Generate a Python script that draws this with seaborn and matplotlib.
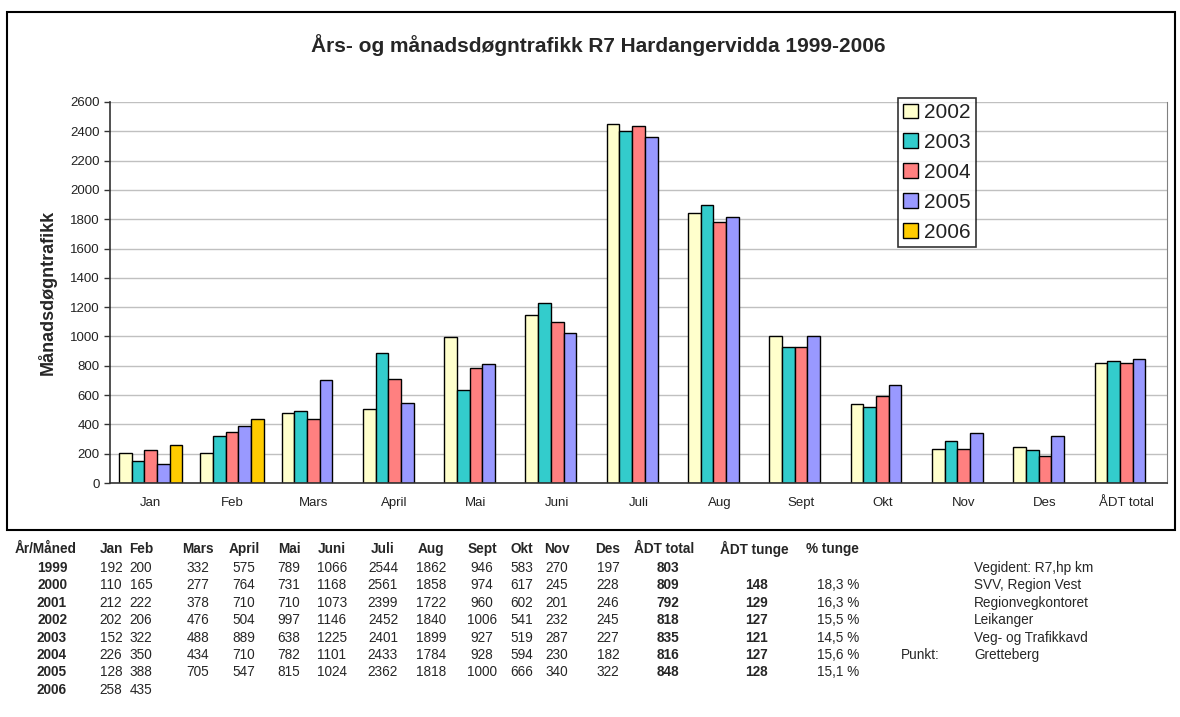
import pandas as pd
import matplotlib.pyplot as plt
import seaborn as sns
from matplotlib.patches import Rectangle

# Data (monthly average daily traffic, Jan..Des)
months = ['Jan', 'Feb', 'Mars', 'April', 'Mai', 'Juni', 'Juli', 'Aug', 'Sept', 'Okt', 'Nov', 'Des']
categories = months + ['ÅDT total']
table_years = [1999, 2000, 2001, 2002, 2003, 2004, 2005, 2006]

v1999 = [192, 200, 332, 575, 789, 1066, 2544, 1862, 946, 583, 270, 197]
v2000 = [110, 165, 277, 764, 731, 1168, 2561, 1858, 974, 617, 245, 228]
v2001 = [212, 222, 378, 710, 710, 1073, 2399, 1722, 960, 602, 201, 246]
v2002 = [202, 206, 476, 504, 997, 1146, 2452, 1840, 1006, 541, 232, 245]
v2003 = [152, 322, 488, 889, 638, 1225, 2401, 1899, 927, 519, 287, 227]
v2004 = [226, 350, 434, 710, 782, 1101, 2433, 1784, 928, 594, 230, 182]
v2005 = [128, 388, 705, 547, 815, 1024, 2362, 1818, 1000, 666, 340, 322]
v2006 = [258, 435]

adt_total = [803, 809, 792, 818, 835, 816, 848, None]
adt_tunge = [None, 148, 129, 127, 121, 127, 128, None]
pct_tunge = [None, '18,3 %', '16,3 %', '15,5 %', '14,5 %', '15,6 %', '15,1 %', None]

monthly = [v1999, v2000, v2001, v2002, v2003, v2004, v2005, v2006]

chart_years = ['2002', '2003', '2004', '2005', '2006']
colors = ['#FFFFCC', '#33CCCC', '#FF8080', '#9999FF', '#FFCC00']

side_notes = ['Vegident: R7,hp km', 'SVV, Region Vest', 'Regionvegkontoret',
              'Leikanger', 'Veg- og Trafikkavd', 'Gretteberg']

# Long-form frame for the chart (2002-2006)
rows = []
for yr, vals in zip(table_years, monthly):
    if str(yr) not in chart_years:
        continue
    for m, v in zip(months, vals):
        rows.append({'Måned': m, 'År': str(yr), 'Trafikk': v})
    tot = adt_total[table_years.index(yr)]
    if tot is not None:
        rows.append({'Måned': 'ÅDT total', 'År': str(yr), 'Trafikk': tot})
df = pd.DataFrame(rows)

sns.set_style('white')
plt.rcParams['font.family'] = ['Liberation Sans', 'DejaVu Sans']

fig = plt.figure(figsize=(11.8, 7.17), dpi=100)
ax = fig.add_axes([110 / 1180, 1 - 483 / 717, 1057 / 1180, 381 / 717])

sns.barplot(data=df, x='Måned', y='Trafikk', hue='År', order=categories,
            hue_order=chart_years, palette=colors, width=0.78,
            edgecolor='black', linewidth=1, saturation=1, ax=ax)

ax.set_xlim(-0.5, len(categories) - 0.5)
ax.set_ylim(0, 2600)
ax.set_yticks(range(0, 2601, 200))
ax.yaxis.grid(True, color='#c0c0c0', linewidth=1)
ax.set_axisbelow(True)

# Excel-style ticks: marks between categories, labels at centre
ax.set_xticks(range(len(categories)))
ax.set_xticklabels(categories)
ax.set_xticks([i - 0.5 for i in range(len(categories) + 1)], minor=True)
ax.tick_params(axis='x', which='major', length=0, pad=10, labelsize=9.5, colors='#222222')
ax.tick_params(axis='x', which='minor', length=5, width=1, color='#333333', direction='out')
ax.tick_params(axis='y', length=4, width=1, color='#333333', labelsize=9.5,
               labelcolor='#222222', left=True, direction='out')

for s in ['left', 'bottom']:
    ax.spines[s].set_color('#333333')
    ax.spines[s].set_linewidth(1.2)
ax.spines['top'].set_visible(False)
ax.spines['right'].set_color('#808080')

ax.set_xlabel('')
ax.set_ylabel('Månadsdøgntrafikk', fontsize=13, fontweight='bold')
ax.yaxis.set_label_coords(-0.050, 0.5)

leg = ax.legend(loc='upper left', bbox_to_anchor=(898 / 1180, 1 - 98 / 717),
                bbox_transform=fig.transFigure, fontsize=15, frameon=True,
                fancybox=False, borderpad=0.25, labelspacing=0.52,
                handlelength=0.7, handleheight=0.7, handletextpad=0.3,
                borderaxespad=0)
leg.get_frame().set_edgecolor('black')
leg.get_frame().set_linewidth(1.2)
for t in leg.get_texts():
    t.set_color('#222222')

fig.text(598 / 1180, 1 - 45 / 717, 'Års- og månadsdøgntrafikk R7 Hardangervidda 1999-2006',
         ha='center', va='center', fontsize=15, fontweight='bold')

# Chart frame
fig.patches.append(Rectangle((7 / 1180, 1 - 530 / 717), 1168 / 1180, 518 / 717,
                             transform=fig.transFigure, fill=False,
                             edgecolor='black', linewidth=1.5))

# Table below the chart
col_x = [111, 141, 198, 244, 289, 332, 383, 431, 482, 522, 557, 608]
px = lambda x: x / 1180
py = lambda y: 1 - y / 717
fs = 9.8
header_y = 549
row_y = [568 + i * 17.4 for i in range(len(table_years))]

fig.text(px(15), py(header_y), 'År/Måned', ha='left', va='center', fontsize=fs, fontweight='bold')
for x, m in zip(col_x, months):
    fig.text(px(x), py(header_y), m, ha='center', va='center', fontsize=fs, fontweight='bold')
fig.text(px(664), py(header_y), 'ÅDT total', ha='center', va='center', fontsize=fs, fontweight='bold')
fig.text(px(754), py(header_y), 'ÅDT tunge', ha='center', va='center', fontsize=fs, fontweight='bold')
fig.text(px(832), py(header_y), '% tunge', ha='center', va='center', fontsize=fs, fontweight='bold')

for i, yr in enumerate(table_years):
    y = py(row_y[i])
    fig.text(px(52), y, str(yr), ha='center', va='center', fontsize=fs, fontweight='bold')
    for x, v in zip(col_x, monthly[i]):
        fig.text(px(x), y, str(v), ha='center', va='center', fontsize=fs)
    if adt_total[i] is not None:
        fig.text(px(668), y, str(adt_total[i]), ha='center', va='center', fontsize=fs, fontweight='bold')
    if adt_tunge[i] is not None:
        fig.text(px(756), y, str(adt_tunge[i]), ha='center', va='center', fontsize=fs, fontweight='bold')
    if pct_tunge[i] is not None:
        fig.text(px(838), y, pct_tunge[i], ha='center', va='center', fontsize=fs)

for i, note in enumerate(side_notes):
    rr = i if i < 5 else 5
    fig.text(px(974), py(row_y[rr]), note, ha='left', va='center', fontsize=fs)
fig.text(px(901), py(row_y[5]), 'Punkt:', ha='left', va='center', fontsize=fs)

fig.savefig('out.png', dpi=100, facecolor='white')
